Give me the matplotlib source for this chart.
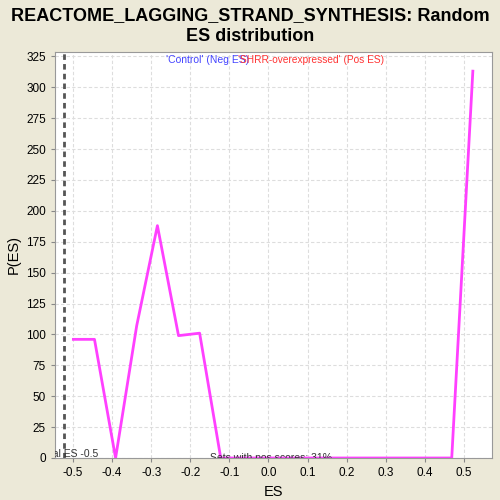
import numpy as np
import matplotlib
matplotlib.use('Agg')
import matplotlib.pyplot as plt

plt.rcParams['font.family'] = ['Liberation Sans', 'DejaVu Sans']

# random ES distribution
es = [-0.499, -0.445, -0.391, -0.337, -0.284, -0.230, -0.176, -0.122, -0.069, -0.015,
      0.039, 0.093, 0.146, 0.200, 0.254, 0.308, 0.362, 0.415, 0.469, 0.523]
p_es = [96, 96, 0, 107, 188, 99, 101, 0, 0, 0,
        0, 0, 0, 0, 0, 0, 0, 0, 0, 313]
actual_es = -0.522
actual_label = 'Actual ES -0.5'
pos_label = 'Sets with pos scores: 31%'
title = 'REACTOME_LAGGING_STRAND_SYNTHESIS: Random\nES distribution'
xticks = [-0.5, -0.4, -0.3, -0.2, -0.1, 0.0, 0.1, 0.2, 0.3, 0.4, 0.5]

bg = '#ECE9D8'
fig = plt.figure(figsize=(5, 5), dpi=100, facecolor=bg)
ax = fig.add_axes([0.11, 0.084, 0.874, 0.812])
ax.set_facecolor('white')

ax.plot(es, p_es, color='#FF40FF', lw=2)
ax.axvline(actual_es, color='#555555', lw=2, ls=(0, (2, 1.5)))

ax.set_xlim(-0.546, 0.572)
ax.set_ylim(0, 328.5)
ax.set_xticks(xticks)
ax.set_xticklabels(['%.1f' % v for v in xticks])
ax.set_yticks(np.arange(0, 326, 25))
ax.tick_params(labelsize=8.5, length=3, color='#888888')
ax.grid(True, color='#DDDDDD', ls=(0, (3, 2)), lw=0.8)
for s in ax.spines.values():
    s.set_color('#999999')

ax.set_xlabel('ES', fontsize=10.5)
ax.set_ylabel('P(ES)', fontsize=10.5)
fig.suptitle(title, fontsize=13, fontweight='bold', y=0.985, linespacing=1.3)

# label starts left of the axes and gets clipped, like the reference
ax.text(-0.605, 0.5, actual_label, fontsize=7.5, color='#333333', clip_on=True)
ax.text(-0.15, -2.5, pos_label, fontsize=7.5, color='#333333', clip_on=True)
ax.text(-0.262, 322, "'Control' (Neg ES)", fontsize=7.5, color='#4444FF', va='center')
ax.text(-0.077, 322, "'SHRR-overexpressed' (Pos ES)", fontsize=7.3, color='#FF3333', va='center')

fig.savefig('out.png', dpi=100, facecolor=bg)
